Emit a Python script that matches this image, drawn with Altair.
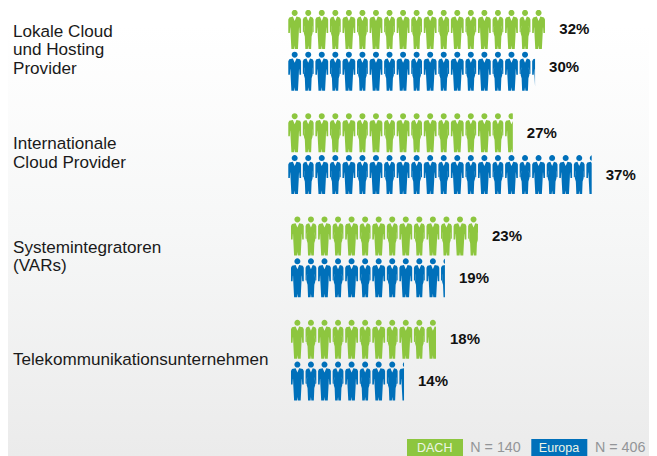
import math
import altair as alt
import pandas as pd

groups = ["Lokale Cloud\nund Hosting\nProvider", "Internationale\nCloud Provider",
          "Systemintegratoren\n(VARs)", "Telekommunikationsunternehmen"]
dach = [32, 27, 23, 18]
europa = [30, 37, 19, 14]
# pictogram lengths, in figures
dach_figs = [19.0, 16.6, 13.83, 10.73]
europa_figs = [18.24, 22.42, 11.39, 8.37]
series = ["DACH", "Europa"]
colors = ["#8DC63F", "#0070BA"]
legend_n = ["N = 140", "N = 406"]

# layout constants
W, H = 641, 448
PITCH = 13.55
X0 = 279.9
GROUP_PITCH = 103.3
Y0 = 42.3
LINE_H = 18.5
starts = [0, 0, 0.2, 0.2]  # small horizontal shift of the lower groups (figure units)
SCALE = 20.0


def circle(cx, cy, r, n=16):
    return [(cx + r * math.cos(2 * math.pi * k / n), cy + r * math.sin(2 * math.pi * k / n)) for k in range(n)]


def mirror(half):
    return half + [(-x, y) for x, y in reversed(half)]


man_body = mirror([(0, -8.5), (1.8, -12.8), (5.4, -12), (6.4, -10), (6.4, 3.5), (4.8, 3.5), (4.5, -2), (4.35, -2),
                   (4.1, 4), (3.3, 19.5), (0.4, 19.5), (0, 16)])
woman_body = mirror([(0, -8.5), (1.8, -12.8), (4.4, -12), (5.4, -10), (5.4, 2.5), (4.4, 3), (4.0, -3), (3.8, -4),
                     (4.3, 4), (3.4, 7), (2.9, 19.5), (0.4, 19.5), (0, 16)])
shapes_base = {
    "man": [circle(0, -16.5, 3), man_body],
    "woman": [circle(0, -16.5, 3), woman_body],
}


def clip(poly, c):
    out = []
    for i, p in enumerate(poly):
        q = poly[(i + 1) % len(poly)]
        pin, qin = p[0] <= c, q[0] <= c
        if pin:
            out.append(p)
        if pin != qin:
            t = (c - p[0]) / (q[0] - p[0])
            out.append((c, p[1] + t * (q[1] - p[1])))
    return out


def to_path(polys):
    parts = []
    for poly in polys:
        if len(poly) < 3:
            continue
        parts.append("M" + "L".join(f"{x / SCALE:.3f},{y / SCALE:.3f}" for x, y in poly) + "Z")
    return "".join(parts) or "M0,0Z"


paths = {k: to_path(v) for k, v in shapes_base.items()}
rows, labels = [], []
for g in range(4):
    for s, (v, figs) in enumerate([(dach[g], dach_figs[g]), (europa[g], europa_figs[g])]):
        y = g + (s - 0.5) * 0.405
        n = int(figs)
        for i in range(n + 1):
            kind = "man" if i % 2 == 0 else "woman"
            key = kind
            if i == n:
                frac = figs - n
                if frac < 0.04:
                    continue
                c = (frac - 0.5) * PITCH
                key = f"{kind}_{g}_{s}"
                paths[key] = to_path([clip(p, c) for p in shapes_base[kind]])
            rows.append({"x": starts[g] + i + 0.5, "y": y, "series": series[s], "shape": key})
        shift = -4 / GROUP_PITCH if (g, s) == (0, 1) else 0
        labels.append({"x": starts[g] + figs, "y": y + shift, "label": f"{v}%"})

xs = alt.Scale(domain=[-X0 / PITCH, (W - X0) / PITCH], nice=False, zero=False)
ys = alt.Scale(domain=[(H - Y0) / GROUP_PITCH, -Y0 / GROUP_PITCH], nice=False, zero=False)
X = lambda f, **k: alt.X(f, scale=xs, axis=None, **k)
Y = lambda f, **k: alt.Y(f, scale=ys, axis=None, **k)

bg = alt.Chart(pd.DataFrame({"a": [0]})).mark_rect(
    color=alt.Gradient(gradient="linear", x1=0, y1=0, x2=0, y2=1,
                       stops=[alt.GradientStop(color="#ffffff", offset=0.04),
                              alt.GradientStop(color="#f6f7f7", offset=0.5),
                              alt.GradientStop(color="#ebebeb", offset=1)])
).encode(x=alt.value(0), x2=alt.value(W), y=alt.value(0), y2=alt.value(H))

figures = alt.Chart(pd.DataFrame(rows)).mark_point(filled=True, opacity=1, size=1600, strokeWidth=0).encode(
    x=X("x:Q"), y=Y("y:Q"),
    color=alt.Color("series:N", scale=alt.Scale(domain=series, range=colors), legend=None),
    shape=alt.Shape("shape:N", scale=alt.Scale(domain=list(paths), range=list(paths.values())), legend=None),
)

pct = alt.Chart(pd.DataFrame(labels)).mark_text(
    font="Liberation Sans", fontWeight="bold", fontSize=15, align="left", baseline="middle",
    dx=14, color="#111111"
).encode(x=X("x:Q"), y=Y("y:Q"), text="label:N")

cat_df = pd.DataFrame({"label": groups,
                       "y": [g - (lab.count("\n")) * LINE_H / 2 / GROUP_PITCH for g, lab in enumerate(groups)]})
cats = alt.Chart(cat_df).mark_text(
    font="Liberation Sans", fontSize=17.1, align="left", baseline="middle", lineBreak="\n",
    lineHeight=LINE_H, color="#1a1a1a"
).encode(x=alt.value(5), y=Y("y:Q"), text="label:N")


def px(v):
    return (v - X0) / PITCH


leg = pd.DataFrame({"series": series, "n": legend_n,
                    "x1": [px(399), px(523.3)], "x2": [px(455), px(579.3)],
                    "tx": [px(426.7), px(551)], "nx": [px(462.3), px(587)]})
leg_rect = alt.Chart(leg).mark_rect().encode(
    x=X("x1:Q"), x2="x2:Q", y=alt.value(431), y2=alt.value(448),
    color=alt.Color("series:N", scale=alt.Scale(domain=series, range=colors), legend=None))
leg_txt = alt.Chart(leg).mark_text(font="Liberation Sans", fontSize=12.5, color="#eef5e6", baseline="middle").encode(
    x=X("tx:Q"), y=alt.value(439.5), text="series:N")
leg_n = alt.Chart(leg).mark_text(font="Liberation Sans", fontSize=14.3, color="#939598", align="left", baseline="middle").encode(
    x=X("nx:Q"), y=alt.value(439.5), text="n:N")

chart = alt.layer(bg, figures, pct, cats, leg_rect, leg_txt, leg_n).properties(
    width=W, height=H, padding=0, background="#ffffff", autosize=alt.AutoSizeParams(type="none")
).configure_view(stroke=None)
chart.save("out.html", embed_options={"renderer": "svg", "actions": False})
